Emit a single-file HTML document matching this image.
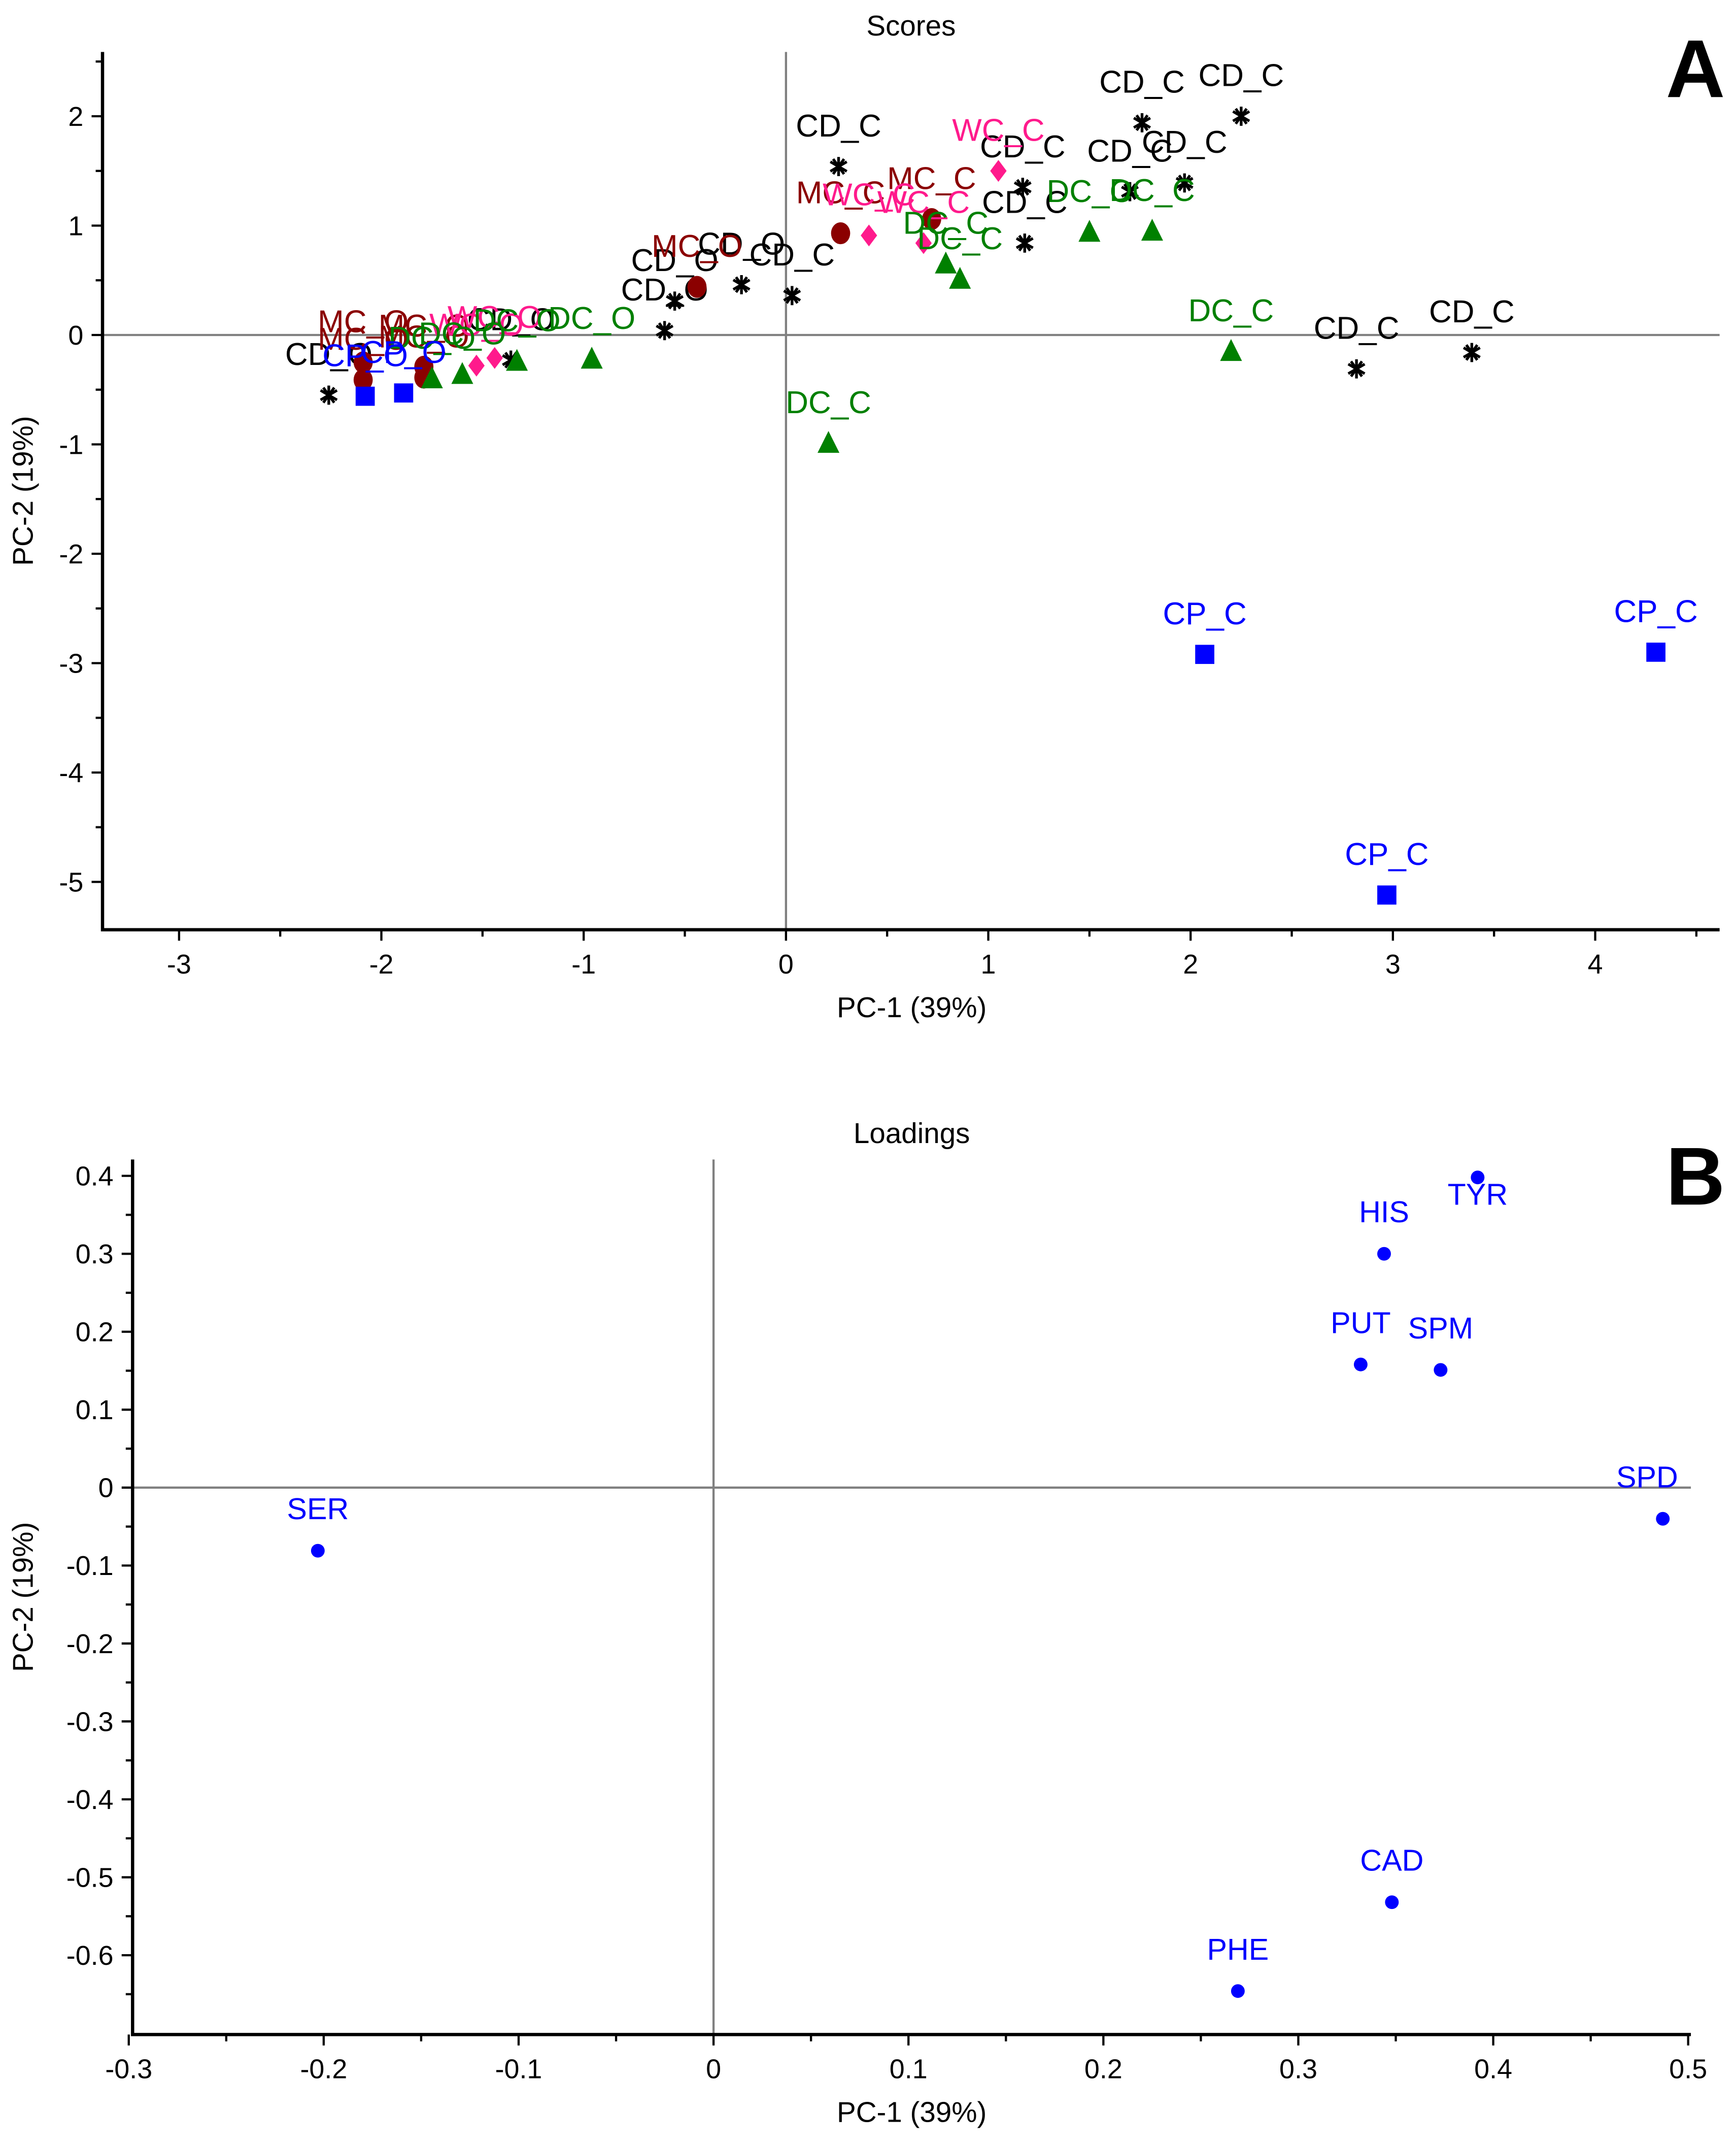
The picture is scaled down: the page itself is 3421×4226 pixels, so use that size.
<!DOCTYPE html>
<html><head><meta charset="utf-8"><style>
html,body{margin:0;padding:0;background:#fff}
svg{display:block}
text{font-family:"Liberation Sans",Arial,sans-serif}
</style></head><body>
<svg id="fig" width="3421" height="4226" viewBox="0 0 1270 1568.8" preserveAspectRatio="none" xmlns="http://www.w3.org/2000/svg"></svg>
<script>
// ---- Scores data (panel A) ----
const cdX=[-2.26,-1.36,-0.60,-0.55,-0.22,0.03,0.26,1.17,1.18,1.76,1.70,1.97,2.25,2.82,3.39];
const cdY=[-0.55,-0.23,0.04,0.31,0.46,0.36,1.54,1.35,0.84,1.94,1.31,1.39,2.00,-0.31,-0.16];
const mcX=[-2.09,-2.09,-1.79,-1.79,-0.44,0.27,0.72];
const mcY=[-0.25,-0.41,-0.29,-0.39,0.44,0.93,1.06];
const wcX=[-1.53,-1.44,0.41,0.68,1.05];
const wcY=[-0.28,-0.21,0.91,0.84,1.50];
const dcX=[-1.75,-1.60,-1.33,-0.96,0.21,0.79,0.86,1.50,1.81,2.20];
const dcY=[-0.40,-0.36,-0.24,-0.22,-0.99,0.65,0.51,0.94,0.95,-0.15];
const cpX=[-2.08,-1.89,2.07,2.97,4.30];
const cpY=[-0.56,-0.53,-2.92,-5.12,-2.90];
const aXTicks=[-3,-2,-1,0,1,2,3,4];
const aYTicks=[2,1,0,-1,-2,-3,-4,-5];
// ---- Loadings data (panel B) ----
const loadNames=["SER","HIS","TYR","PUT","SPM","SPD","CAD","PHE"];
const loadX=[-0.203,0.344,0.392,0.332,0.373,0.487,0.348,0.269];
const loadY=[-0.081,0.300,0.398,0.158,0.151,-0.040,-0.532,-0.646];
const bXTicks=[-0.3,-0.2,-0.1,0,0.1,0.2,0.3,0.4,0.5];
const bYTicks=[0.4,0.3,0.2,0.1,0,-0.1,-0.2,-0.3,-0.4,-0.5,-0.6];

const NS="http://www.w3.org/2000/svg";
const svg=document.getElementById('fig');
function mk(tag,attrs,parent,txt){const e=document.createElementNS(NS,tag);for(const k in attrs)e.setAttribute(k,attrs[k]);if(txt!==undefined)e.textContent=txt;(parent||svg).appendChild(e);return e;}

function panel(cfg){
  const g=mk('g',{});
  
  
  const sx=v=>cfg.x0+(v-cfg.xa)*cfg.kx;
  const sy=v=>cfg.y0-(v-cfg.ya)*cfg.ky;
  const zx=mk('line',{x1:sx(0),x2:sx(0),y1:cfg.top,y2:cfg.bottom,stroke:'#808080','stroke-width':1.6},g);
  
  const zy=mk('line',{x1:cfg.left,x2:cfg.right,y1:sy(0),y2:sy(0),stroke:'#808080','stroke-width':1.6},g);
  
  const ax=mk('path',{d:`M${cfg.left},${cfg.top} V${cfg.bottom} H${cfg.right}`,fill:'none',stroke:'#000','stroke-width':2.4},g);
  
  const fmt=cfg.fmt;
  cfg.xt.forEach((t,i)=>{
    mk('line',{x1:sx(t),x2:sx(t),y1:cfg.bottom,y2:cfg.bottom+8,stroke:'#000','stroke-width':1.6},g);
    if(i<cfg.xt.length-1){const m=(t+cfg.xt[i+1])/2;mk('line',{x1:sx(m),x2:sx(m),y1:cfg.bottom,y2:cfg.bottom+5,stroke:'#000','stroke-width':1.6},g);}
    if(i==0&&cfg.xminor0){const m=t-(cfg.xt[1]-t)/2; if(sx(m)>cfg.left) mk('line',{x1:sx(m),x2:sx(m),y1:cfg.bottom,y2:cfg.bottom+5,stroke:'#000','stroke-width':1.6},g);}
    const tl=mk('text',{x:sx(t),y:cfg.bottom+32,'font-size':20,'text-anchor':'middle'},g,fmt(t));
    
  });
  {const last=cfg.xt[cfg.xt.length-1];const m=last+(last-cfg.xt[cfg.xt.length-2])/2;if(sx(m)<cfg.right)mk('line',{x1:sx(m),x2:sx(m),y1:cfg.bottom,y2:cfg.bottom+5,stroke:'#000','stroke-width':1.6},g);}
  cfg.yt.forEach((t,i)=>{
    mk('line',{x1:cfg.left-8,x2:cfg.left,y1:sy(t),y2:sy(t),stroke:'#000','stroke-width':1.6},g);
    if(i<cfg.yt.length-1){const m=(t+cfg.yt[i+1])/2;mk('line',{x1:cfg.left-5,x2:cfg.left,y1:sy(m),y2:sy(m),stroke:'#000','stroke-width':1.6},g);}
    const tl=mk('text',{x:cfg.left-14,y:sy(t)+7,'font-size':20,'text-anchor':'end'},g,fmt(t));
    
  });
  {const m=cfg.yt[0]+(cfg.yt[0]-cfg.yt[1])/2; if(sy(m)>cfg.top) mk('line',{x1:cfg.left-5,x2:cfg.left,y1:sy(m),y2:sy(m),stroke:'#000','stroke-width':1.6},g);
   const l=cfg.yt[cfg.yt.length-1];const m2=l-(cfg.yt[0]-cfg.yt[1])/2; if(sy(m2)<cfg.bottom) mk('line',{x1:cfg.left-5,x2:cfg.left,y1:sy(m2),y2:sy(m2),stroke:'#000','stroke-width':1.6},g);}
  const t1=mk('text',{x:(cfg.left+cfg.right)/2,y:cfg.top-12,'font-size':21,'text-anchor':'middle'},g,cfg.title);
  
  const t2=mk('text',{x:667,y:cfg.bottom+64,'font-size':21,'text-anchor':'middle'},g,'PC-1 (39%)');
  
  const yc=(cfg.top+cfg.bottom)/2;
  const t3=mk('text',{x:24,y:yc,'font-size':21,'text-anchor':'middle',transform:`rotate(-90 24 ${yc})`},g,'PC-2 (19%)');
  
  const t4=mk('text',{x:1262,y:cfg.top+33,'font-size':60,'font-weight':'bold','text-anchor':'end'},g,cfg.letter);
  
  return {g,sx,sy};
}

const A=panel({name:'scores-plot',left:75,right:1258,top:38,bottom:680,x0:575,xa:0,kx:148,y0:245,ya:0,ky:80,xt:aXTicks,yt:aYTicks,xminor0:true,fmt:v=>String(v),title:'Scores',letter:'A'});
function series(xs,ys,color,shape,labO,labC,nm){
  xs.forEach((xv,i)=>{
    const px=A.sx(xv),py=A.sy(ys[i]);let m;
    if(shape==='star'){
      m=mk('path',{d:`M${px},${py-7} V${py+7} M${px-6},${py-3.5} L${px+6},${py+3.5} M${px-6},${py+3.5} L${px+6},${py-3.5} M${px-4},${py-5.5} L${px+4},${py+5.5} M${px+4},${py-5.5} L${px-4},${py+5.5}`,stroke:color,'stroke-width':2,fill:'none'},A.g);
    }else if(shape==='circle'){m=mk('ellipse',{cx:px,cy:py,rx:7,ry:8,fill:color},A.g);}
    else if(shape==='diamond'){m=mk('path',{d:`M${px},${py-8} L${px+6},${py} L${px},${py+8} L${px-6},${py}Z`,fill:color},A.g);}
    else if(shape==='tri'){m=mk('path',{d:`M${px},${py-9} L${px+8},${py+7} L${px-8},${py+7}Z`,fill:color},A.g);}
    else {m=mk('rect',{x:px-7,y:py-7,width:14,height:14,fill:color},A.g);}
    
    
    const lab=mk('text',{x:px,y:py-22,'font-size':23,'text-anchor':'middle',fill:color},A.g,xv<0?labO:labC);
    
    
  });
}
series(cdX,cdY,'#000','star','CD_O','CD_C','cd');
series(mcX,mcY,'#8b0000','circle','MC_O','MC_C','mc');
series(wcX,wcY,'#ff1a8c','diamond','WC_O','WC_C','wc');
series(dcX,dcY,'#008000','tri','DC_O','DC_C','dc');
series(cpX,cpY,'#0000ff','square','CP_O','CP_C','cp');

const B=panel({name:'loadings-plot',left:97,right:1237,top:848,bottom:1488,x0:522,xa:0,kx:1426,y0:1088,ya:0,ky:570,xt:bXTicks,yt:bYTicks,xminor0:false,fmt:v=>{const r=Math.round(v*10)/10;return r===0?'0':String(r);},title:'Loadings',letter:'B'});
loadNames.forEach((n,i)=>{
  const px=B.sx(loadX[i]),py=B.sy(loadY[i]);
  const c=mk('circle',{cx:px,cy:py,r:5,fill:'#0000ff'},B.g);
  
  
  let ly=py-23,lx=px;
  if(py-40<B.sy(0.4)) ly=py+20;
  if(px+30>1237) lx=1237-32;
  const t=mk('text',{x:lx,y:ly,'font-size':22,'text-anchor':'middle',fill:'#0000ff'},B.g,n);
  
  
});
</script>
</body></html>
